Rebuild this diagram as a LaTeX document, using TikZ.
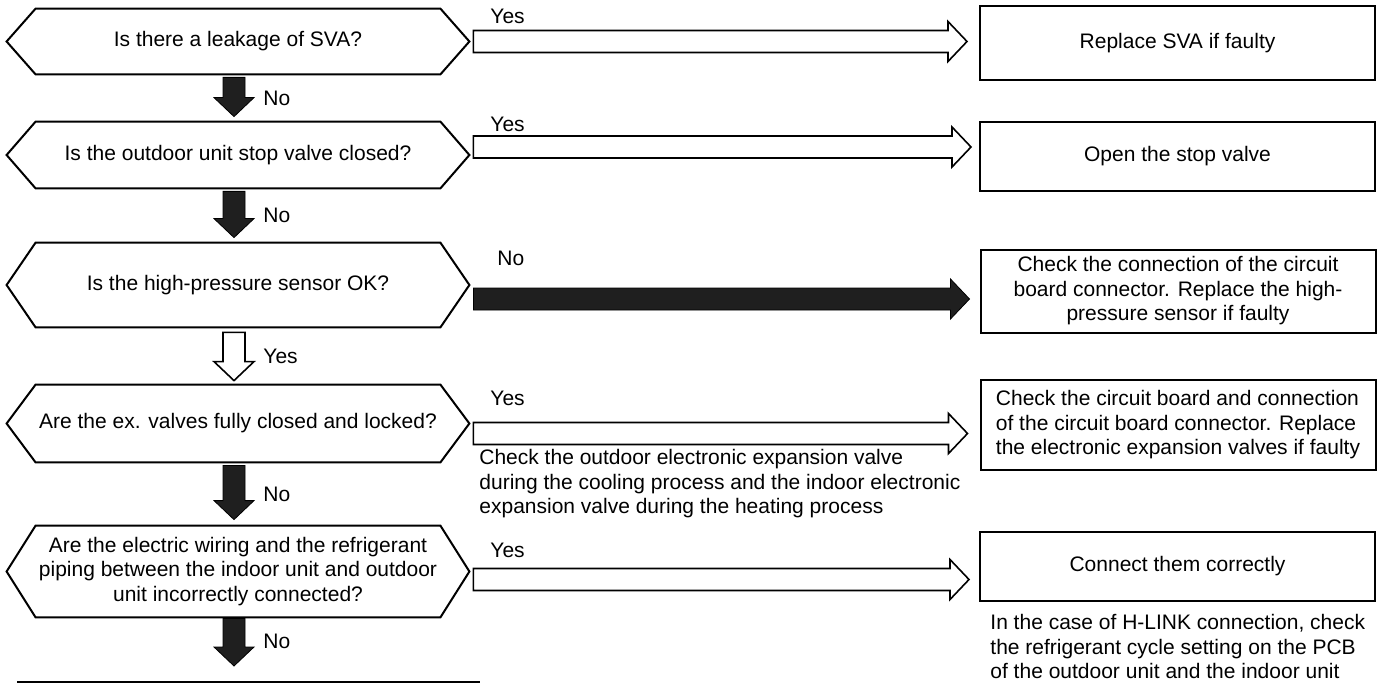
\documentclass[tikz,border=0pt]{standalone}
\usepackage{fontspec}
\setmainfont{Liberation Sans}
\usetikzlibrary{calc}

% wide block arrow from #2 to #3
\newcommand\blockarrow[3][]{%
  \coordinate (ba-s) at (#2);
  \coordinate (ba-e) at (#3);
  \coordinate (ba-b) at ($(ba-e)!9.5pt!(ba-s)$);
  \draw[#1] ($(ba-s)!5.5pt!90:(ba-e)$) -- ($(ba-b)!5.5pt!-90:(ba-s)$)
    -- ($(ba-b)!10pt!-90:(ba-s)$) -- (ba-e) -- ($(ba-b)!10pt!90:(ba-s)$)
    -- ($(ba-b)!5.5pt!90:(ba-s)$) -- ($(ba-s)!5.5pt!-90:(ba-e)$) -- cycle;}

\begin{document}
\begin{tikzpicture}[x=0.5pt,y=-0.5pt,
  every node/.style={font=\fontsize{10.5}{12.25}\selectfont},
  query/.style={minimum width=231pt,inner sep=0pt,align=center},
  act/.style={draw,line width=1pt,minimum width=197.5pt,inner sep=3pt,align=center},
  lbl/.style={anchor=west,inner sep=0pt},
  openarr/.style={draw,fill=white,line width=0.8pt},
  fullarr/.style={fill=black!88}]
  \useasboundingbox (0,0) rectangle (1385,684);

  \node[query,minimum height=32.5pt] (q1) at (238,41.5) {Is there a leakage of SVA?};
  \node[query,minimum height=33pt] (q2) at (238,155) {Is the outdoor unit stop valve closed?};
  \node[query,minimum height=42pt] (q3) at (238,285) {Is the high-pressure sensor OK?};
  \node[query,minimum height=38.5pt] (q4) at (238,423.5) {Are the ex. valves fully closed and locked?};
  \node[query,minimum height=45.5pt] (q5) at (238,571.5) {Are the electric wiring and the refrigerant\\piping between the indoor unit and outdoor\\unit incorrectly connected?};
  \foreach \q in {q1,q2,q3,q4,q5}
    \draw[line width=1pt] (\q.west) -- ($(\q.north west)+(29,0)$) -- ($(\q.north east)+(-29,0)$)
      -- (\q.east) -- ($(\q.south east)+(-29,0)$) -- ($(\q.south west)+(29,0)$) -- cycle;

  \node[act,minimum height=37pt] (b1) at (1177.5,43) {Replace SVA if faulty};
  \node[act,minimum height=34.5pt] (b2) at (1177.5,156.5) {Open the stop valve};
  \node[act,minimum height=41.5pt] (b3) at (1178,291) {Check the connection of the circuit\\board connector. Replace the high-\\pressure sensor if faulty};
  \node[act,minimum height=45pt,align=left] (b4) at (1178,425) {Check the circuit board and connection\\of the circuit board connector. Replace\\the electronic expansion valves if faulty};
  \node[act,minimum height=34.5pt] (b5) at (1177.5,566.5) {Connect them correctly};

  % down the chain
  \blockarrow[fullarr]{$(q1.south)+(-4,3)$}{$(q2.north)+(-4,-5)$}
  \blockarrow[fullarr]{$(q2.south)+(-4,3)$}{$(q3.north)+(-4,-5)$}
  \blockarrow[openarr]{$(q3.south)+(-4,5)$}{$(q4.north)+(-4,-4)$}
  \blockarrow[fullarr]{$(q4.south)+(-4,3)$}{$(q5.north)+(-4,-6)$}
  \coordinate (end) at (234,666);
  \blockarrow[fullarr]{$(q5.south)+(-4,1)$}{end}
  \draw[line width=1.2pt] (17,682) -- (480,682);

  \node[lbl] (n1) at ($(q1.south)!0.5!(q2.north)+(25,0)$) {No};
  \node[lbl] (n2) at ($(q2.south)!0.5!(q3.north)+(25,0)$) {No};
  \node[lbl] (n3) at ($(q3.south)!0.5!(q4.north)+(25,0)$) {Yes};
  \node[lbl] (n4) at ($(q4.south)!0.5!(q5.north)+(25,0)$) {No};
  \node[lbl] (n5) at ($(q5.south)!0.5!(end)+(27,0)$) {No};

  % across to the actions
  \blockarrow[openarr]{$(q1.east)+(4,0)$}{$(b1.west |- q1.east)+(-12,0)$}
  \blockarrow[openarr]{$(q2.east)+(4,-8)$}{$(b2.west |- q2.east)+(-8,-8)$}
  \blockarrow[fullarr]{$(q3.east)+(4,14)$}{$(b3.west |- q3.east)+(-10,14)$}
  \blockarrow[openarr]{$(q4.east)+(4,10)$}{$(b4.west |- q4.east)+(-12,10)$}
  \blockarrow[openarr]{$(q5.east)+(4,8)$}{$(b5.west |- q5.east)+(-10,8)$}

  \node[lbl] (y1) at (490,16) {Yes};
  \node[lbl] (y2) at (490,124) {Yes};
  \node[lbl] (y3) at (497,258) {No};
  \node[lbl] (y4) at (490,398) {Yes};
  \node[lbl] (y5) at (490,550) {Yes};

  \node[lbl,anchor=north west,align=left] (c4) at (479,449) {Check the outdoor electronic expansion valve\\during the cooling process and the indoor electronic\\expansion valve during the heating process};
  \node[lbl,anchor=north west,align=left] (c5) at (990,614) {In the case of H-LINK connection, check\\the refrigerant cycle setting on the PCB\\of the outdoor unit and the indoor unit};
\end{tikzpicture}
\end{document}
